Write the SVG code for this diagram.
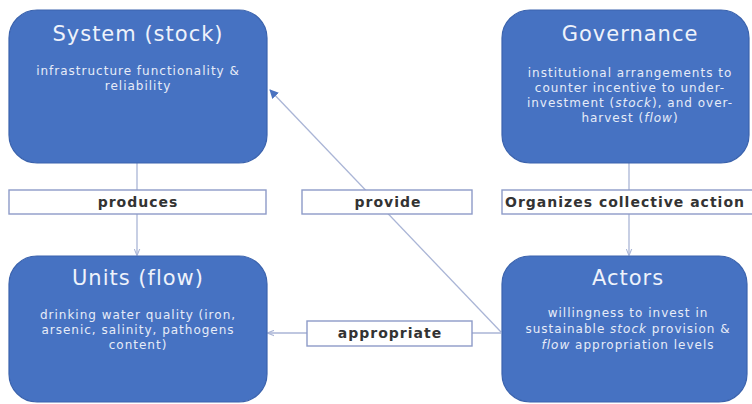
<svg xmlns="http://www.w3.org/2000/svg" width="752" height="404" viewBox="0 0 752 404">
  <style>
    .node { fill: #4672c2; stroke: #3b63ad; stroke-width: 1.2; }
    .title { font-family: "DejaVu Sans", Verdana, sans-serif; font-size: 21px; letter-spacing: 1px; fill: #eef2fb; text-anchor: middle; }
    .body { font-family: "DejaVu Sans", Verdana, sans-serif; font-size: 12px; letter-spacing: 1px; fill: #e6ecf8; text-anchor: middle; }
    .lbox { fill: #ffffff; stroke: #8d9bc8; stroke-width: 1.4; }
    .ltext { font-family: "DejaVu Sans", Verdana, sans-serif; font-size: 14px; letter-spacing: 1px; font-weight: bold; fill: #333333; text-anchor: middle; }
    .conn { stroke: #aab5d6; stroke-width: 1.3; fill: none; }
  </style>
  <defs>
    <marker id="arrow" viewBox="0 0 10 10" refX="9" refY="5" markerWidth="7" markerHeight="7" orient="auto" markerUnits="userSpaceOnUse">
      <path d="M0,1 L10,5 L0,9" fill="none" stroke="#aab5d6" stroke-width="1.5"/>
    </marker>
    <marker id="arrowDark" viewBox="0 0 10 10" refX="9" refY="5" markerWidth="9" markerHeight="9" orient="auto" markerUnits="userSpaceOnUse">
      <path d="M0,0 L10,5 L0,10 Z" fill="#4a72c0"/>
    </marker>
  </defs>

  <rect width="752" height="404" fill="#ffffff"/>

  <!-- connectors -->
  <g id="connectors">
    <line class="conn" x1="137" y1="163" x2="137" y2="255" marker-end="url(#arrow)"/>
    <line class="conn" x1="629" y1="163" x2="629" y2="255" marker-end="url(#arrow)"/>
    <line class="conn" x1="501" y1="332" x2="270" y2="90" marker-end="url(#arrowDark)"/>
    <line class="conn" x1="501" y1="333" x2="268" y2="333" marker-end="url(#arrow)"/>
  </g>

  <!-- nodes -->
  <g id="system">
    <rect class="node" x="9" y="10" width="258" height="153" rx="28"/>
    <text class="title" x="138" y="41">System (stock)</text>
    <text class="body" x="138" y="75">infrastructure functionality &amp;</text>
    <text class="body" x="138" y="90">reliability</text>
  </g>

  <g id="governance">
    <rect class="node" x="502" y="10" width="247" height="153" rx="28"/>
    <text class="title" x="630" y="41">Governance</text>
    <text class="body" x="630" y="77">institutional arrangements to</text>
    <text class="body" x="630" y="92">counter incentive to under-</text>
    <text class="body" x="630" y="107">investment (<tspan font-style="italic">stock</tspan>), and over-</text>
    <text class="body" x="630" y="122">harvest (<tspan font-style="italic">flow</tspan>)</text>
  </g>

  <g id="units">
    <rect class="node" x="9" y="256" width="258" height="146" rx="28"/>
    <text class="title" x="138" y="285">Units (flow)</text>
    <text class="body" x="138" y="319">drinking water quality (iron,</text>
    <text class="body" x="138" y="334">arsenic, salinity, pathogens</text>
    <text class="body" x="138" y="349">content)</text>
  </g>

  <g id="actors">
    <rect class="node" x="502" y="256" width="245" height="146" rx="28"/>
    <text class="title" x="628" y="285">Actors</text>
    <text class="body" x="628" y="317">willingness to invest in</text>
    <text class="body" x="628" y="333">sustainable <tspan font-style="italic">stock</tspan> provision &amp;</text>
    <text class="body" x="628" y="349"><tspan font-style="italic">flow</tspan> appropriation levels</text>
  </g>

  <!-- connector labels -->
  <g id="label-produces">
    <rect class="lbox" x="9" y="190" width="257" height="24"/>
    <text class="ltext" x="138" y="207">produces</text>
  </g>
  <g id="label-provide">
    <rect class="lbox" x="302" y="190" width="170" height="24"/>
    <text class="ltext" x="388" y="207">provide</text>
  </g>
  <g id="label-organizes">
    <rect class="lbox" x="502" y="190" width="254" height="24"/>
    <text class="ltext" x="625" y="207">Organizes collective action</text>
  </g>
  <g id="label-appropriate">
    <rect class="lbox" x="307" y="321" width="165" height="25"/>
    <text class="ltext" x="390" y="338">appropriate</text>
  </g>
</svg>
